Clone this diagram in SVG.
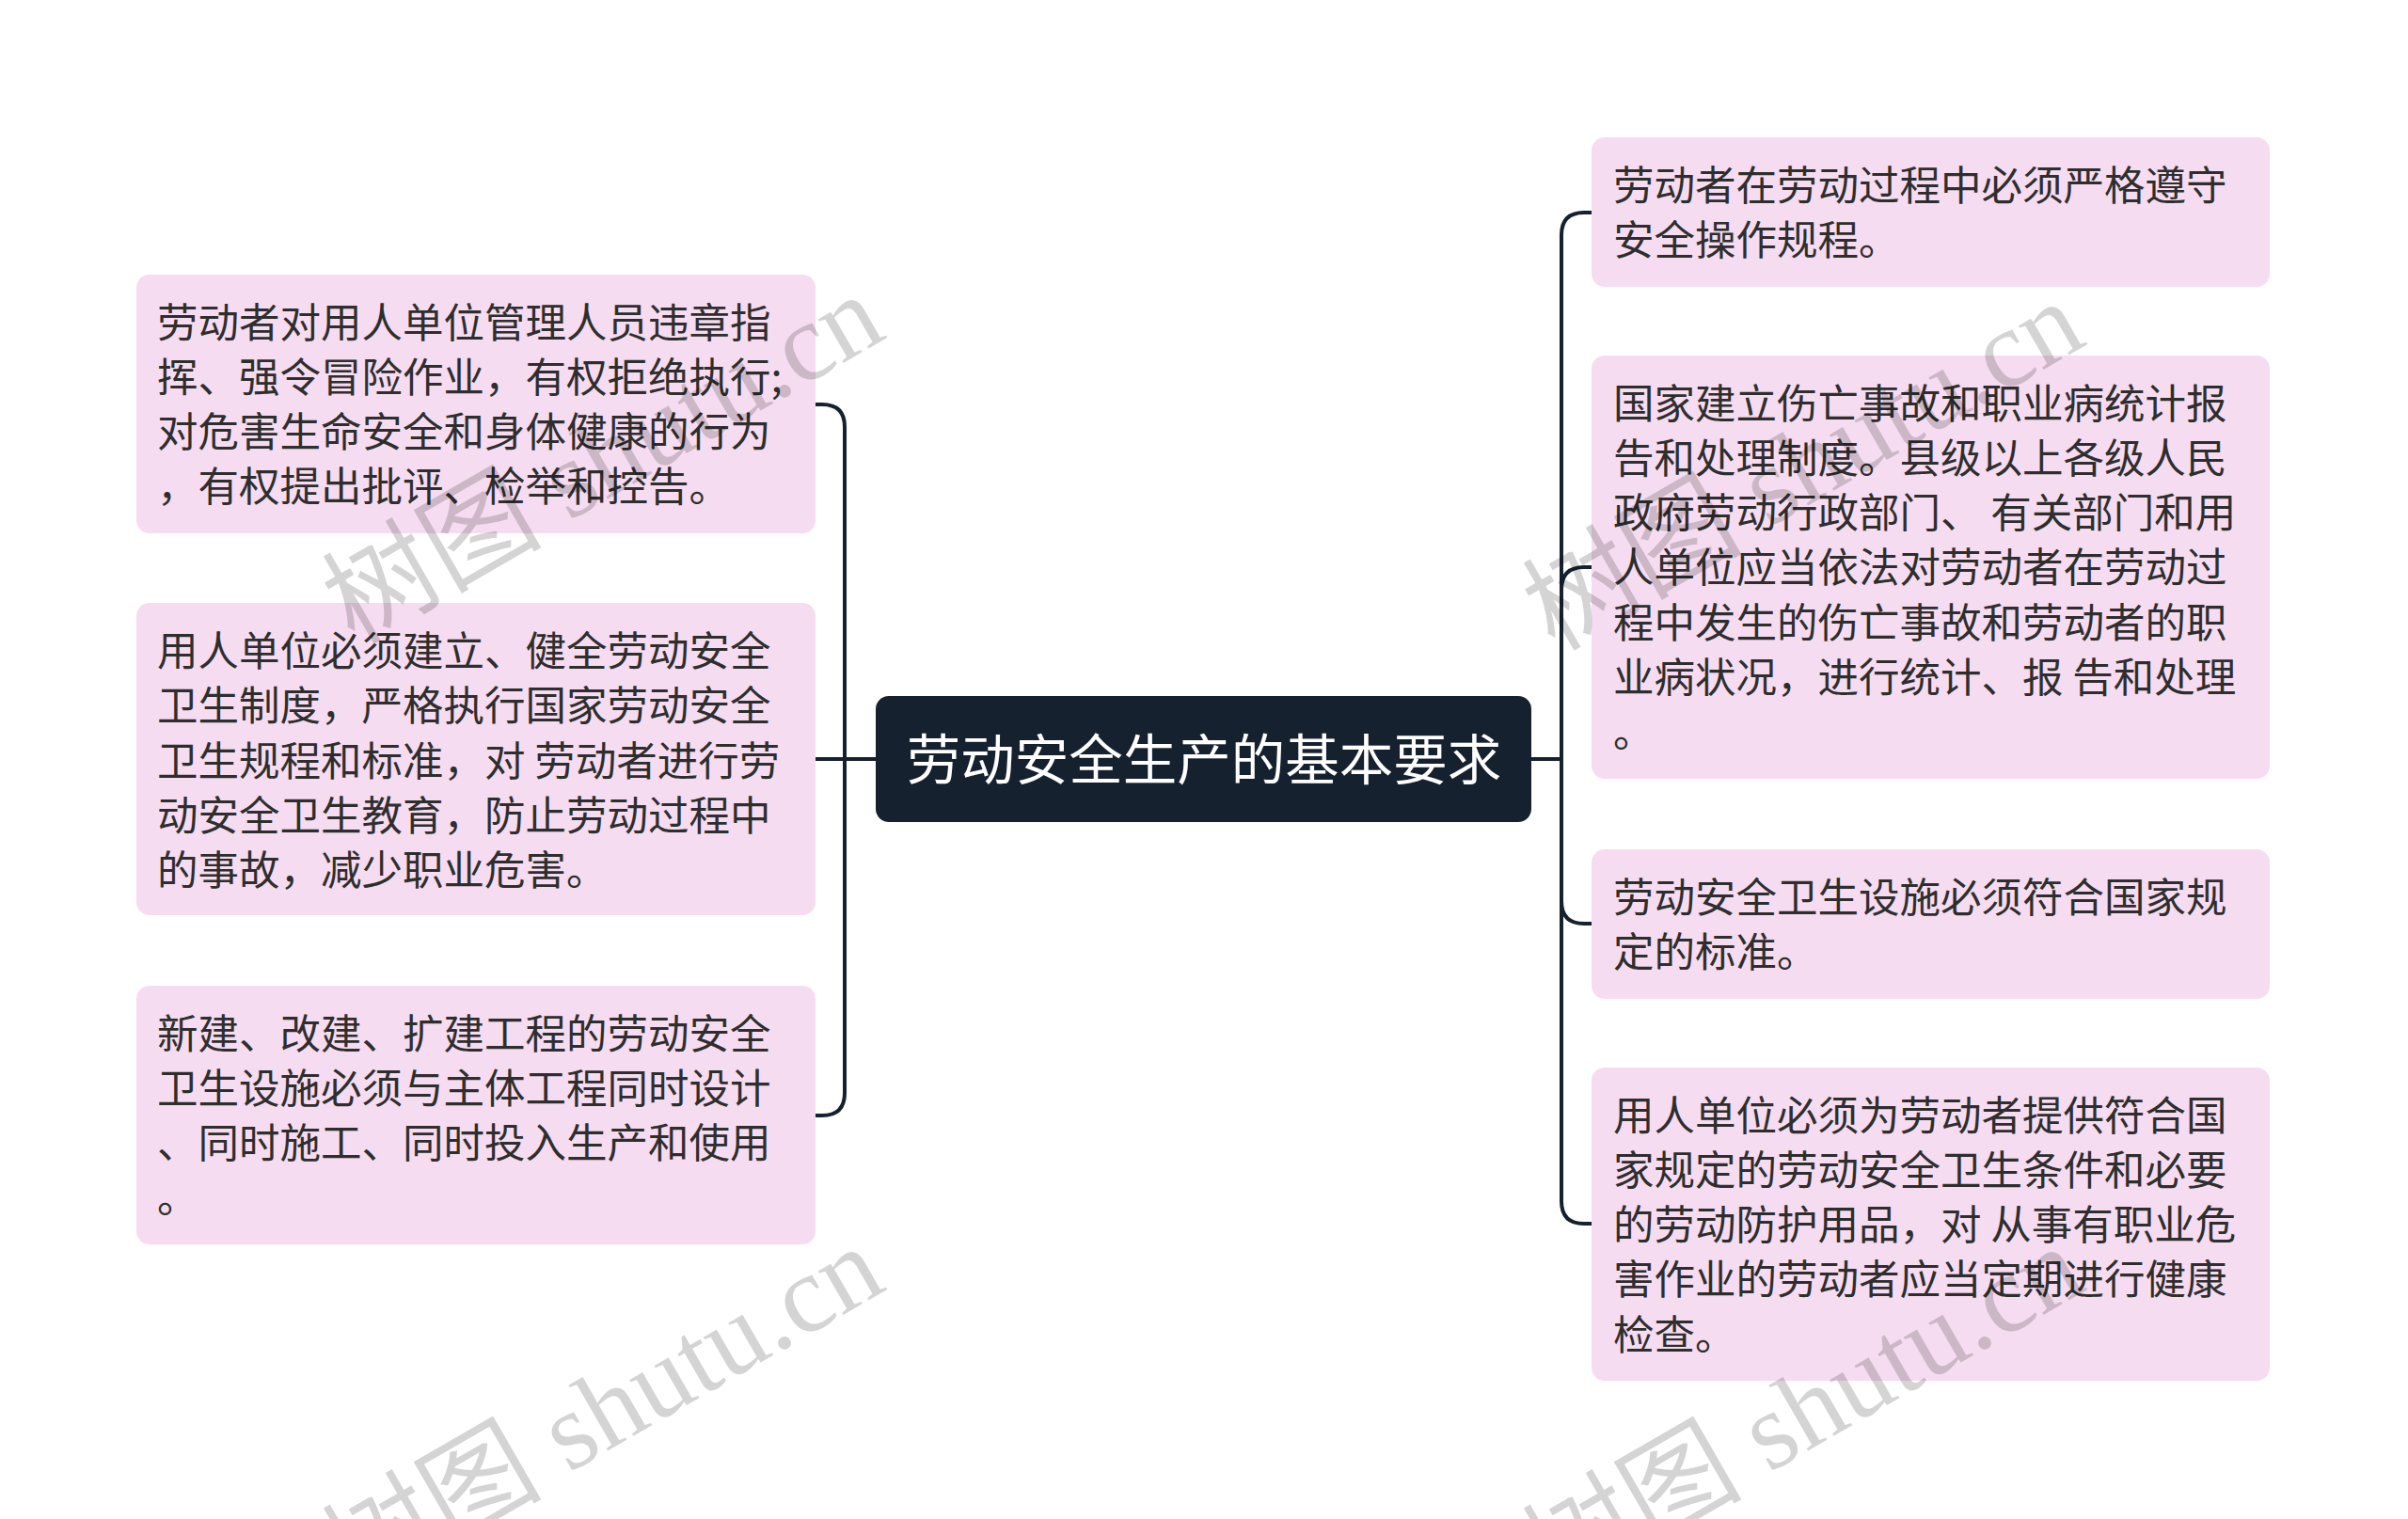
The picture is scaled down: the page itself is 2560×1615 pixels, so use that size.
<svg xmlns="http://www.w3.org/2000/svg" xmlns:xlink="http://www.w3.org/1999/xlink" width="2560" height="1615" viewBox="0 0 2560 1615">
<style>
.box{fill:#f6dcf0;}
.txt{font-family:"Noto Sans CJK SC","Noto Sans",sans-serif;font-size:43.5px;fill:#2e2e2e;}
.root{fill:#16212f;}
.roottxt{font-family:"Noto Sans CJK SC","Noto Sans",sans-serif;font-size:57.5px;fill:#ffffff;}
.conn{fill:none;stroke:#16212f;stroke-width:4;stroke-linecap:round;stroke-linejoin:round;}
.wm{font-family:"Liberation Serif","Noto Sans CJK SC",serif;font-size:117px;fill:#000000;fill-opacity:0.17;}
</style>
<defs>
<text id="wmtext" class="wm" x="0" y="0" text-anchor="end">树图 shutu.cn</text>
</defs>
<rect x="0" y="0" width="2560" height="1615" fill="#ffffff"/>

<g id="connectors">
<path class="conn" d="M931 807 H898"/>
<path class="conn" d="M898 807 V454 Q898 430 874 430 H867"/>
<path class="conn" d="M898 807 H867"/>
<path class="conn" d="M898 807 V1162 Q898 1186 874 1186 H867"/>
<path class="conn" d="M1628 807 H1660"/>
<path class="conn" d="M1660 807 V250 Q1660 226 1684 226 H1692"/>
<path class="conn" d="M1660 807 V627 Q1660 603 1684 603 H1692"/>
<path class="conn" d="M1660 807 V958 Q1660 982 1684 982 H1692"/>
<path class="conn" d="M1660 807 V1277 Q1660 1301 1684 1301 H1692"/>
</g>

<g id="root">
<rect class="root" x="931" y="740" width="697" height="134" rx="14"/>
<text class="roottxt" x="1280" y="829" text-anchor="middle">劳动安全生产的基本要求</text>
</g>

<g id="left1">
<rect class="box" x="145" y="292" width="722" height="275" rx="14"/>
<text class="txt">
<tspan x="167" y="359">劳动者对用人单位管理人员违章指</tspan>
<tspan x="167" y="417">挥、强令冒险作业，有权拒绝执行;</tspan>
<tspan x="167" y="475">对危害生命安全和身体健康的行为</tspan>
<tspan x="167" y="533">，有权提出批评、检举和控告。</tspan>
</text>
</g>

<g id="left2">
<rect class="box" x="145" y="641" width="722" height="332" rx="14"/>
<text class="txt">
<tspan x="167" y="708">用人单位必须建立、健全劳动安全</tspan>
<tspan x="167" y="766">卫生制度，严格执行国家劳动安全</tspan>
<tspan x="167" y="825">卫生规程和标准，对 劳动者进行劳</tspan>
<tspan x="167" y="883">动安全卫生教育，防止劳动过程中</tspan>
<tspan x="167" y="941">的事故，减少职业危害。</tspan>
</text>
</g>

<g id="left3">
<rect class="box" x="145" y="1048" width="722" height="275" rx="14"/>
<text class="txt">
<tspan x="167" y="1115">新建、改建、扩建工程的劳动安全</tspan>
<tspan x="167" y="1173">卫生设施必须与主体工程同时设计</tspan>
<tspan x="167" y="1231">、同时施工、同时投入生产和使用</tspan>
<tspan x="167" y="1289">。</tspan>
</text>
</g>

<g id="right1">
<rect class="box" x="1692" y="146" width="721" height="159" rx="14"/>
<text class="txt">
<tspan x="1715" y="213">劳动者在劳动过程中必须严格遵守</tspan>
<tspan x="1715" y="271">安全操作规程。</tspan>
</text>
</g>

<g id="right2">
<rect class="box" x="1692" y="378" width="721" height="450" rx="14"/>
<text class="txt">
<tspan x="1715" y="445">国家建立伤亡事故和职业病统计报</tspan>
<tspan x="1715" y="503">告和处理制度。县级以上各级人民</tspan>
<tspan x="1715" y="561">政府劳动行政部门、 有关部门和用</tspan>
<tspan x="1715" y="619">人单位应当依法对劳动者在劳动过</tspan>
<tspan x="1715" y="678">程中发生的伤亡事故和劳动者的职</tspan>
<tspan x="1715" y="736">业病状况，进行统计、报 告和处理</tspan>
<tspan x="1715" y="794">。</tspan>
</text>
</g>

<g id="right3">
<rect class="box" x="1692" y="903" width="721" height="159" rx="14"/>
<text class="txt">
<tspan x="1715" y="970">劳动安全卫生设施必须符合国家规</tspan>
<tspan x="1715" y="1028">定的标准。</tspan>
</text>
</g>

<g id="right4">
<rect class="box" x="1692" y="1135" width="721" height="333" rx="14"/>
<text class="txt">
<tspan x="1715" y="1202">用人单位必须为劳动者提供符合国</tspan>
<tspan x="1715" y="1260">家规定的劳动安全卫生条件和必要</tspan>
<tspan x="1715" y="1318">的劳动防护用品，对 从事有职业危</tspan>
<tspan x="1715" y="1376">害作业的劳动者应当定期进行健康</tspan>
<tspan x="1715" y="1435">检查。</tspan>
</text>
</g>

<g id="watermarks">
<use xlink:href="#wmtext" transform="translate(945,358) rotate(-30)"/>
<use xlink:href="#wmtext" transform="translate(2221,365) rotate(-30)"/>
<use xlink:href="#wmtext" transform="translate(945,1370) rotate(-30)"/>
<use xlink:href="#wmtext" transform="translate(2221,1370) rotate(-30)"/>
</g>
</svg>
